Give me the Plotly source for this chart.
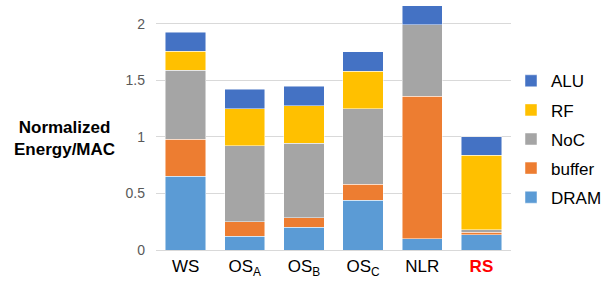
import plotly.graph_objects as go

categories = ["WS", "OS<sub>A</sub>", "OS<sub>B</sub>", "OS<sub>C</sub>", "NLR", "RS"]
tick_labels = ["WS", "OS<sub>A</sub>", "OS<sub>B</sub>", "OS<sub>C</sub>", "NLR",
               "<span style='color:#FF0000'><b>RS</b></span>"]
dram = [0.65, 0.12, 0.20, 0.44, 0.10, 0.135]
buffer = [0.33, 0.13, 0.085, 0.14, 1.26, 0.02]
noc = [0.61, 0.67, 0.66, 0.67, 0.63, 0.025]
rf = [0.165, 0.33, 0.33, 0.33, 0.0, 0.655]
alu = [0.17, 0.17, 0.17, 0.17, 0.17, 0.165]

series = [
    ("DRAM", dram, "#5B9BD5", 5),
    ("buffer", buffer, "#ED7D31", 4),
    ("NoC", noc, "#A5A5A5", 3),
    ("RF", rf, "#FFC000", 2),
    ("ALU", alu, "#4472C4", 1),
]

fig = go.Figure()
for name, vals, color, rank in series:
    fig.add_trace(go.Bar(
        x=categories, y=vals, name=name, legendgroup=name, legendrank=rank,
        marker=dict(color=color, line=dict(color="rgba(255,255,255,0.6)", width=0.8)),
    ))

fig.update_layout(
    barmode="stack",
    bargap=0.32,
    width=608, height=281,
    margin=dict(l=156, r=88, t=1, b=31),
    plot_bgcolor="white", paper_bgcolor="white",
    font=dict(family="Liberation Sans, Arial, sans-serif", color="#000000"),
    xaxis=dict(
        tickvals=categories, ticktext=tick_labels,
        tickfont=dict(size=17, color="#000000"),
        showgrid=False, ticks="", showline=False, ticklabelstandoff=4,
    ),
    yaxis=dict(
        range=[0, 2.2], tickvals=[0, 0.5, 1, 1.5, 2], ticktext=["0", "0.5", "1", "1.5", "2"],
        tickfont=dict(size=14, color="#595959"),
        showgrid=True, gridcolor="#D9D9D9", gridwidth=1,
        zeroline=True, zerolinecolor="#D9D9D9", zerolinewidth=1,
        ticks="", ticklen=0, showline=False, ticklabelstandoff=10,
    ),
    legend=dict(
        x=1.0, y=0.75, xanchor="left", yanchor="top",
        traceorder="grouped", tracegroupgap=4,
        font=dict(size=17, color="#000000"),
        bgcolor="rgba(0,0,0,0)",
    ),
    showlegend=True,
    annotations=[dict(
        text="<b>Normalized<br>Energy/MAC</b>",
        x=(62 - 156) / 364, y=(250 - 138) / 249,
        xref="paper", yref="paper", xanchor="center", yanchor="middle",
        showarrow=False,
        font=dict(size=17, color="#000000"),
    )],
)

fig.write_html("out.html", post_script="document.body.style.margin='0';",
               config={"displayModeBar": False})
